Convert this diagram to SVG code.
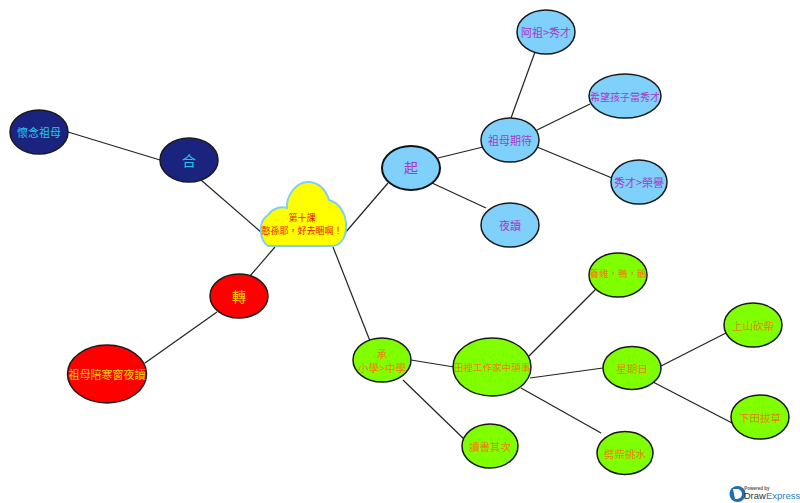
<svg xmlns="http://www.w3.org/2000/svg" width="800" height="503" viewBox="0 0 800 503">
<style>
text{font-family:"Noto Sans CJK TC","Liberation Sans",sans-serif;text-anchor:middle;dominant-baseline:central}
.e{stroke:#1a1a1a;stroke-width:1.5}
.b{fill:#7fd0fb}.g{fill:#7fff00}.n{fill:#1a237e}.r{fill:#ff0000}
.tb{fill:#a838c8;font-size:11px}.tg{fill:#ee8010;font-size:10.5px}.tn{fill:#25c8ee;font-size:11px}.tr{fill:#ffd000;font-size:11px}
.big{font-size:14px}
.lat{font-family:"Liberation Sans",sans-serif}
#connectors line{stroke:#222;stroke-width:1.2}
</style>
<rect width="800" height="503" fill="#fff"/>
<g id="connectors">
<line x1="262" y1="233" x2="201" y2="180"/>
<line x1="160" y1="160" x2="68" y2="132"/>
<line x1="345" y1="233" x2="388" y2="183"/>
<line x1="438" y1="158" x2="483" y2="147"/>
<line x1="432" y1="183" x2="486" y2="208"/>
<line x1="511" y1="118" x2="535" y2="52"/>
<line x1="537" y1="130" x2="590" y2="104"/>
<line x1="537" y1="147" x2="612" y2="178"/>
<line x1="275" y1="247" x2="250" y2="276"/>
<line x1="217" y1="312" x2="145" y2="363"/>
<line x1="333" y1="247" x2="370" y2="341"/>
<line x1="411" y1="360" x2="454" y2="367"/>
<line x1="403" y1="380" x2="466" y2="441"/>
<line x1="529" y1="356" x2="597" y2="288"/>
<line x1="530" y1="378" x2="603" y2="368"/>
<line x1="521" y1="388" x2="601" y2="433"/>
<line x1="661" y1="366" x2="726" y2="333"/>
<line x1="653" y1="382" x2="734" y2="424"/>
</g>
<g id="root">
<path d="M268 246C259 240 258 221 268 215C272 209 280 206 287 208C286 196 296 182 308 182C319 182 326 190 329 200C340 203 347 215 346 228C346 238 340 246 332 246Z" fill="#ffff00" stroke="#7fd0f0" stroke-width="2"/>
<text x="302" y="217" fill="#f01010" font-size="9px">第十課<tspan x="302" dy="13">憨孫耶&#xFF0C;好去睏啊&#xFF01;</tspan></text>
</g>
<g id="he"><ellipse class="e n" cx="189" cy="160" rx="29" ry="22"/><text class="tn big" x="189" y="160">合</text></g>
<g id="miss"><ellipse class="e n" cx="39" cy="132" rx="29" ry="22"/><text class="tn" x="39" y="132">懷念祖母</text></g>
<g id="qi"><ellipse class="b" stroke="#111" stroke-width="2" cx="411" cy="168" rx="29" ry="22"/><text class="tb big" x="411" y="167">起</text></g>
<g id="expect"><ellipse class="e b" cx="510" cy="140" rx="29" ry="22"/><text class="tb" x="510" y="140">祖母期待</text></g>
<g id="night"><ellipse class="e b" cx="510" cy="225" rx="29" ry="22"/><text class="tb" x="510" y="225">夜讀</text></g>
<g id="xiucai"><ellipse class="e b" cx="546" cy="32" rx="29" ry="22"/><text class="tb" x="546" y="32">阿祖&gt;秀才</text></g>
<g id="hope"><ellipse class="e b" cx="625" cy="96" rx="36" ry="22"/><text class="tb" x="625" y="96" style="font-size:10px">希望孩子當秀才</text></g>
<g id="honor"><ellipse class="e b" cx="639" cy="182" rx="28" ry="22"/><text class="tb" x="639" y="182">秀才&gt;榮譽</text></g>
<g id="zhuan"><ellipse class="e r" cx="239" cy="296" rx="29" ry="22"/><text class="tr big" x="239" y="296">轉</text></g>
<g id="cold"><ellipse class="e r" cx="107" cy="374" rx="39.500" ry="29"/><text class="tr" x="107" y="374">祖母陪寒窗夜讀</text></g>
<g id="cheng"><ellipse class="e g" cx="382" cy="360" rx="29" ry="22"/><text class="tg" x="382" y="353">承<tspan x="382" dy="14">小學&gt;中學</tspan></text></g>
<g id="chores"><ellipse class="e g" cx="492" cy="367" rx="39" ry="29"/><text class="tg" x="492" y="367" style="font-size:9.600px">田裡工作家中瑣事</text></g>
<g id="study"><ellipse class="e g" cx="490" cy="446" rx="28" ry="22"/><text class="tg" x="490" y="446">讀書其次</text></g>
<g id="poultry"><ellipse class="e g" cx="618" cy="275" rx="29" ry="22"/><text class="tg" x="618" y="273" style="font-size:9.500px">養雞&#xFF0C;鴨&#xFF0C;鵝</text></g>
<g id="sunday"><ellipse class="e g" cx="632" cy="368" rx="29" ry="21.500"/><text class="tg" x="632" y="368">星期日</text></g>
<g id="firewood"><ellipse class="e g" cx="625" cy="453" rx="28" ry="21.500"/><text class="tg" x="625" y="453">劈柴挑水</text></g>
<g id="mountain"><ellipse class="e g" cx="753" cy="325" rx="29" ry="22"/><text class="tg" x="753" y="325">上山砍柴</text></g>
<g id="field"><ellipse class="e g" cx="760" cy="417" rx="29" ry="22"/><text class="tg" x="760" y="417">下田拔草</text></g>
<g id="logo">
<circle cx="737.500" cy="494" r="8" fill="#1f6fb0"/>
<path d="M733 489h4a5 5 0 0 1 0 10h-2z" fill="#fff"/>
<text class="lat" x="757" y="488" font-size="4.500px" fill="#555" font-weight="bold">Powered by</text>
<text class="lat" x="772" y="495" font-size="9.500px"><tspan fill="#333">Draw</tspan><tspan fill="#2a7fc0">Express</tspan></text>
</g>
</svg>
